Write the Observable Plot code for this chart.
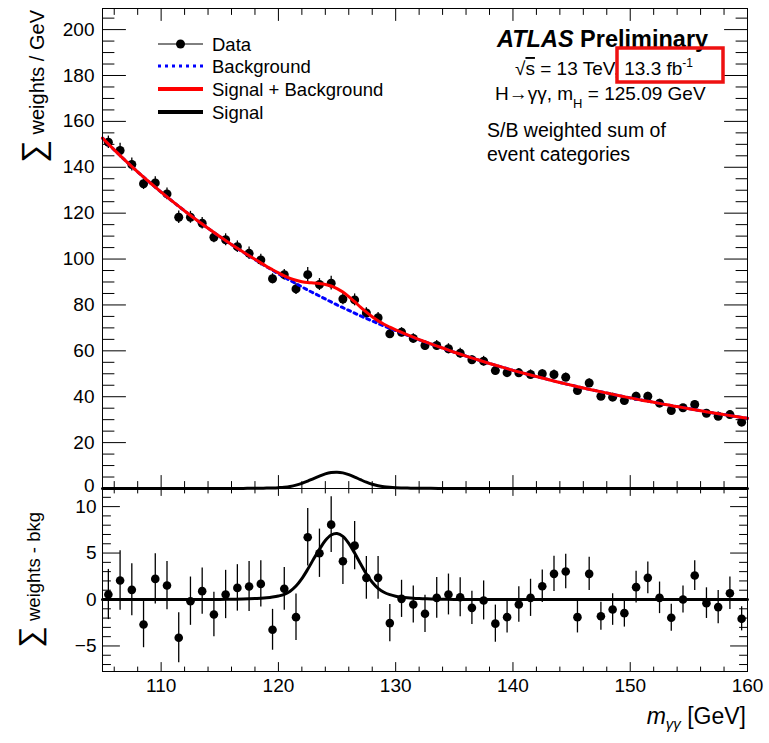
<!DOCTYPE html>
<html><head><meta charset="utf-8">
<script src="https://cdn.jsdelivr.net/npm/d3@7"></script>
<script src="https://cdn.jsdelivr.net/npm/@observablehq/plot@0.6"></script>
<style>
body{margin:0;background:#fff;font-family:"Liberation Sans",Arial,sans-serif;}
#wrap{position:relative;width:769px;height:743px;overflow:hidden;}
#wrap svg{position:absolute;left:0;}
</style></head><body><div id="wrap"></div>
<script>
// ---- data ----
const binCenters = [105.5,106.5,107.5,108.5,109.5,110.5,111.5,112.5,113.5,114.5,115.5,116.5,117.5,118.5,119.5,120.5,121.5,122.5,123.5,124.5,125.5,126.5,127.5,128.5,129.5,130.5,131.5,132.5,133.5,134.5,135.5,136.5,137.5,138.5,139.5,140.5,141.5,142.5,143.5,144.5,145.5,146.5,147.5,148.5,149.5,150.5,151.5,152.5,153.5,154.5,155.5,156.5,157.5,158.5,159.5];
const dataValues = [150.9,147.3,141.2,132.8,133.2,128.4,118.2,118.2,115.6,109.5,108.4,105.4,102.5,99.6,91.4,93.2,87.0,93.2,88.9,89.5,82.6,82.2,76.5,74.4,67.4,68.1,65.4,62.3,62.3,60.9,59.0,56.1,55.5,51.4,50.5,50.4,49.7,50.0,49.7,48.5,42.7,46.0,40.2,39.8,38.3,40.2,40.2,37.2,34.0,35.2,36.6,32.8,31.5,32.2,28.9];
const residualValues = [0.54,2.04,1.04,-2.69,2.22,1.5,-4.12,-0.18,0.9,-1.61,0.54,1.25,1.4,1.68,-3.26,1.15,-1.9,6.7,4.98,8.06,4.12,5.8,2.33,2.33,-2.54,0.07,-0.54,-1.54,0.18,0.54,0.25,-0.9,-0.1,-2.6,-1.9,-0.54,0.18,1.43,2.76,3.01,-1.9,2.76,-1.8,-1.08,-1.47,1.33,2.33,0.18,-1.97,0,2.58,-0.39,-0.82,0.68,-2.08];
const errorValues = [2.7,3.2,2.8,2.5,2.7,2.6,2.7,2.6,2.5,2.4,2.6,2.5,2.7,2.5,2.2,2.3,2.5,3.1,2.6,3.0,2.5,2.6,2.3,2.3,2.0,2.0,2.0,2.0,2.2,2.2,2.1,1.8,2.1,2.0,1.7,1.9,2.0,1.75,1.9,1.85,1.7,1.8,1.5,1.7,1.5,1.7,1.7,1.7,1.45,1.45,1.6,1.65,1.8,1.75,1.3];

const curveMass = [105,106,107,108,109,110,111,112,113,114,115,116,117,117.5,118,118.5,119,119.5,120,120.5,121,121.5,122,122.5,123,123.5,124,124.5,125,125.5,126,126.5,127,127.5,128,128.5,129,129.5,130,130.5,131,131.5,132,132.5,133,134,135,136,137,138,139,140,141,142,143,144,145,146,147,148,149,150,151,152,153,154,155,156,157,158,159,160];
const backgroundValues = [152.7,147.6,142.7,138.0,133.5,129.2,125.0,121.0,117.1,113.4,109.8,106.3,103.0,101.4,99.8,98.2,96.6,95.1,93.6,92.1,90.7,89.3,87.9,86.5,85.2,83.9,82.6,81.3,80.0,78.8,77.6,76.4,75.2,74.1,73.0,71.9,70.8,69.8,68.8,67.8,66.8,65.8,64.8,63.9,63.0,61.2,59.4,57.7,56.1,54.5,53.0,51.5,50.1,48.8,47.5,46.2,45.0,43.8,42.7,41.6,40.5,39.5,38.5,37.6,36.6,35.7,34.8,33.9,33.0,32.2,31.4,30.6];
const signalValues = [0,0,0,0,0,0,0,0,0,0,0,0.03,0.05,0.07,0.1,0.13,0.18,0.26,0.38,0.56,0.9,1.45,2.25,3.25,4.35,5.4,6.35,6.95,7.1,6.8,6.05,5.0,3.85,2.75,1.85,1.2,0.78,0.52,0.35,0.25,0.18,0.13,0.1,0.08,0.06,0.03,0,0,0,0,0,0,0,0,0,0,0,0,0,0,0,0,0,0,0,0,0,0,0,0,0,0];

// ---- axis ticks ----
const xTickLabels = [110,120,130,140,150,160];
const xMinorTicks = [106,108,112,114,116,118,122,124,126,128,132,134,136,138,142,144,146,148,152,154,156,158];
const yTopLabels = [20,40,60,80,100,120,140,160,180,200];
const yTopZero = [0];
const yTopMajor = [0,20,40,60,80,100,120,140,160,180,200];
const yTopMinor = [5,10,15,25,30,35,45,50,55,65,70,75,85,90,95,105,110,115,125,130,135,145,150,155,165,170,175,185,190,195,205];
const yBotLabels = [-5,0,5,10];
const yBotMinor = [-7,-6,-4,-3,-2,-1,1,2,3,4,6,7,8,9,11];

const legendLabels = ["Data","Background","Signal + Background","Signal"];

// ---- tables ----
const points = binCenters.map((m,i)=>({m, v:dataValues[i], r:residualValues[i], e:errorValues[i]}));
const curve = curveMass.map((m,i)=>({m, b:backgroundValues[i], s:signalValues[i], sb:backgroundValues[i]+signalValues[i]}));

const W = 769, ML = 102, MR = 22;
const xDomain = [105,160];
const yTopDomain = [0,209.2];
const yBotDomain = [-7.75,11.95];
const FONT = "Liberation Sans, Arial, sans-serif";
const tickShape = {draw(ctx,l){ctx.moveTo(0,0);ctx.lineTo(0,-l);}};

function tickMarks(xd, yd, maj, min, xMaj, xMin, yMaj, yMin) {
  const o = {anchor:"start", shape:tickShape, stroke:"black", strokeWidth:1};
  return [
    Plot.vector(yMaj.v, {...o, x:xd[0], y:d=>d, rotate:90, length:yMaj.len}),
    Plot.vector(yMin.v, {...o, x:xd[0], y:d=>d, rotate:90, length:yMin.len}),
    Plot.vector(yMaj.v, {...o, x:xd[1], y:d=>d, rotate:270, length:yMaj.len}),
    Plot.vector(yMin.v, {...o, x:xd[1], y:d=>d, rotate:270, length:yMin.len}),
    Plot.vector(xMaj.v, {...o, x:d=>d, y:yd[1], rotate:180, length:maj.top}),
    Plot.vector(xMin.v, {...o, x:d=>d, y:yd[1], rotate:180, length:min.top}),
    Plot.vector(xMaj.v, {...o, x:d=>d, y:yd[0], rotate:0, length:maj.bot}),
    Plot.vector(xMin.v, {...o, x:d=>d, y:yd[0], rotate:0, length:min.bot})
  ];
}

const topPlot = Plot.plot({
  width: W, height: 492, marginTop: 8, marginBottom: 4, marginLeft: ML, marginRight: MR,
  x: {domain: xDomain, axis: null},
  y: {domain: yTopDomain},
  style: {background: "transparent", overflow: "visible", fontFamily: FONT},
  marks: [
    Plot.axisY(yTopLabels, {tickSize: 0, tickPadding: 8, fontSize: 19, label: null}),
    Plot.axisY(yTopZero, {tickSize: 0, tickPadding: 8, fontSize: 19, label: null, dy: -3}),
    ...tickMarks(xDomain, yTopDomain, {top:12, bot:13}, {top:6, bot:7},
      {v:xTickLabels}, {v:xMinorTicks}, {v:yTopMajor, len:23}, {v:yTopMinor, len:11.5}),
    Plot.ruleX(points, {x:"m", y1:d=>d.v-d.e, y2:d=>d.v+d.e, stroke:"black", strokeWidth:1.3}),
    Plot.dot(points, {x:"m", y:"v", r:4.5, fill:"black"}),
    Plot.line(curve, {x:"m", y:"b", stroke:"#0000ff", strokeWidth:3, strokeDasharray:"3,4", curve:"catmull-rom"}),
    Plot.line(curve, {x:"m", y:"sb", stroke:"#ff0000", strokeWidth:3, curve:"catmull-rom"}),
    Plot.line(curve, {x:"m", y:"s", stroke:"black", strokeWidth:3, curve:"catmull-rom"}),
    Plot.frame({stroke:"black", strokeWidth:1})
  ]
});

const botPlot = Plot.plot({
  width: W, height: 257, marginTop: 2, marginBottom: 72, marginLeft: ML, marginRight: MR,
  x: {domain: xDomain},
  y: {domain: yBotDomain},
  style: {background: "transparent", overflow: "visible", fontFamily: FONT},
  marks: [
    Plot.axisY(yBotLabels, {tickSize: 0, tickPadding: 6, fontSize: 19, label: null}),
    Plot.axisX(xTickLabels, {tickSize: 0, tickPadding: 7, fontSize: 19, label: null}),
    ...tickMarks(xDomain, yBotDomain, {top:7, bot:9}, {top:4.5, bot:4.5},
      {v:xTickLabels}, {v:xMinorTicks}, {v:yBotLabels, len:17}, {v:yBotMinor, len:8}),
    Plot.ruleX(points, {x:"m", y1:d=>d.r-d.e, y2:d=>d.r+d.e, stroke:"black", strokeWidth:1.3}),
    Plot.dot(points, {x:"m", y:"r", r:4.3, fill:"black"}),
    Plot.line(curve, {x:"m", y:"s", stroke:"black", strokeWidth:3, curve:"catmull-rom"}),
    Plot.frame({stroke:"black", strokeWidth:1})
  ]
});

const wrap = document.getElementById("wrap");
topPlot.style.top = "0px";
botPlot.style.top = "486px";
wrap.appendChild(topPlot);
wrap.appendChild(botPlot);

// ---- text annotations ----
const ts = d3.select(topPlot);
const tg = ts.append("g").style("font-family", FONT).attr("fill","black").attr("text-anchor","start");

// y title (top)
const yt = tg.append("text").attr("transform","translate(44,10) rotate(-90)").attr("text-anchor","end").style("font-size","20px");
yt.append("tspan").style("font-size","32px").text("∑");
yt.append("tspan").text(" weights / GeV");

// legend
const legY = [44,66,89,112];
const lx1 = 158, lx2 = 203, ltx = 212;
tg.append("line").attr("x1",lx1).attr("x2",lx2).attr("y1",legY[0]).attr("y2",legY[0]).attr("stroke","black").attr("stroke-width",1);
tg.append("circle").attr("cx",(lx1+lx2)/2).attr("cy",legY[0]).attr("r",4.5).attr("fill","black");
tg.append("line").attr("x1",lx1).attr("x2",lx2).attr("y1",legY[1]).attr("y2",legY[1]).attr("stroke","#0000ff").attr("stroke-width",3).attr("stroke-dasharray","3,4");
tg.append("line").attr("x1",lx1).attr("x2",lx2).attr("y1",legY[2]).attr("y2",legY[2]).attr("stroke","#ff0000").attr("stroke-width",4);
tg.append("line").attr("x1",lx1).attr("x2",lx2).attr("y1",legY[3]).attr("y2",legY[3]).attr("stroke","black").attr("stroke-width",4);
legendLabels.forEach((t,i)=>{
  tg.append("text").attr("x",ltx).attr("y",legY[i]).attr("dy","0.36em").attr("text-anchor","start").style("font-size","18.5px").text(t);
});

// ATLAS label
const at = tg.append("text").attr("x",497).attr("y",47).attr("text-anchor","start").style("font-size","23.5px").style("font-weight","bold");
at.append("tspan").style("font-style","italic").text("ATLAS");
at.append("tspan").text(" Preliminary");

const sq = tg.append("text").attr("x",515).attr("y",75).attr("text-anchor","start").style("font-size","19px");
sq.append("tspan").text("√");
sq.append("tspan").style("text-decoration","overline").text("s");
sq.append("tspan").text(" = 13 TeV, 13.3 fb");
sq.append("tspan").attr("dy","-8").style("font-size","12px").text("-1");

const hl = tg.append("text").attr("x",495).attr("y",100).attr("text-anchor","start").style("font-size","19px");
hl.append("tspan").text("H→γγ, m");
hl.append("tspan").attr("dy","8").style("font-size","13px").text("H");
hl.append("tspan").attr("dy","-8").text(" = 125.09 GeV");

tg.append("text").attr("x",487).attr("y",137).attr("text-anchor","start").style("font-size","19.5px").text("S/B weighted sum of");
tg.append("text").attr("x",487).attr("y",161).attr("text-anchor","start").style("font-size","19.5px").text("event categories");

tg.append("rect").attr("x",617).attr("y",48).attr("width",106).attr("height",34)
  .attr("fill","none").attr("stroke","#ee1111").attr("stroke-width",3.5);

// bottom panel titles
const bs = d3.select(botPlot).append("g").style("font-family", FONT).attr("fill","black");
const yb = bs.append("text").attr("transform","translate(40,26) rotate(-90)").attr("text-anchor","end").style("font-size","18.5px");
yb.append("tspan").style("font-size","30px").text("∑");
yb.append("tspan").text(" weights - bkg");

const xt = bs.append("text").attr("x",746).attr("y",238).attr("text-anchor","end").style("font-size","23px");
xt.append("tspan").style("font-style","italic").text("m");
xt.append("tspan").attr("dy","5").style("font-size","15px").style("font-style","italic").text("γγ");
xt.append("tspan").attr("dy","-5").text(" [GeV]");
</script></body></html>
